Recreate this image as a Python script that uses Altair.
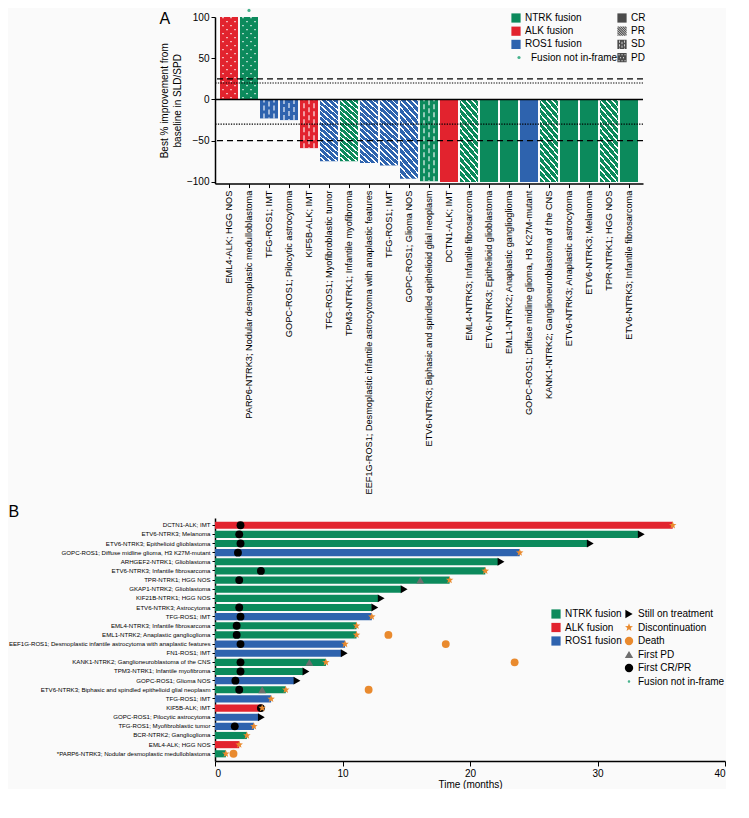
import json
import altair as alt
import pandas as pd

FONT = "Arial"
GREEN, RED, BLUE = "#0c8a5c", "#e2232e", "#2e63ae"
ORANGE, GRAY, TEAL = "#e98a2e", "#6e6e6e", "#47b28d"

fusion_names = ["NTRK fusion", "ALK fusion", "ROS1 fusion"]
fusion_colors = [GREEN, RED, BLUE]
not_in_frame = "Fusion not in-frame"

# ---------------- Panel A data ----------------
a_labels = [
    "EML4-ALK; HGG NOS",
    "PARP6-NTRK3; Nodular desmoplastic medulloblastoma",
    "TFG-ROS1; IMT",
    "GOPC-ROS1; Pilocytic astrocytoma",
    "KIF5B-ALK; IMT",
    "TFG-ROS1; Myofibroblastic tumor",
    "TPM3-NTRK1; Infantile myofibroma",
    "EEF1G-ROS1; Desmoplastic infantile astrocytoma with anaplastic features",
    "TFG-ROS1; IMT",
    "GOPC-ROS1; Glioma NOS",
    "ETV6-NTRK3; Biphasic and spindled epithelioid glial neoplasm",
    "DCTN1-ALK; IMT",
    "EML4-NTRK3; Infantile fibrosarcoma",
    "ETV6-NTRK3; Epithelioid glioblastoma",
    "EML1-NTRK2; Anaplastic ganglioglioma",
    "GOPC-ROS1; Diffuse midline glioma, H3 K27M-mutant",
    "KANK1-NTRK2; Ganglioneuroblastoma of the CNS",
    "ETV6-NTRK3; Anaplastic astrocytoma",
    "ETV6-NTRK3; Melanoma",
    "TPR-NTRK1; HGG NOS",
    "ETV6-NTRK3; Infantile fibrosarcoma",
]
a_fusion = ["ALK fusion", "NTRK fusion", "ROS1 fusion", "ROS1 fusion", "ALK fusion",
            "ROS1 fusion", "NTRK fusion", "ROS1 fusion", "ROS1 fusion", "ROS1 fusion",
            "NTRK fusion", "ALK fusion", "NTRK fusion", "NTRK fusion", "NTRK fusion",
            "ROS1 fusion", "NTRK fusion", "NTRK fusion", "NTRK fusion", "NTRK fusion",
            "NTRK fusion"]
a_change = [100, 100, -23, -25, -59, -75, -75, -77, -80, -96, -99,
            -100, -100, -100, -100, -100, -100, -100, -100, -100, -100]
a_response = ["PD", "PD", "SD", "SD", "SD", "PR", "PR", "PR", "PR", "PR", "SD",
              "CR", "PR", "CR", "CR", "CR", "PR", "CR", "CR", "PR", "CR"]
a_nif_index = [1]
a_nif_value = [108]
a_ticks = [-100, -75, -50, -25, 0, 25, 50, 75, 100]
a_domain = [-102, 100]
ref_values = [0, 25, 20, -30, -50]
ref_kind = ["solid", "dashed", "dotted", "dotted", "dashed"]
pattern_names = ["CR", "PR", "SD", "PD"]

# ---------------- Panel B data ----------------
b_labels = [
    "DCTN1-ALK; IMT",
    "ETV6-NTRK3; Melanoma",
    "ETV6-NTRK3; Epithelioid glioblastoma",
    "GOPC-ROS1; Diffuse midline glioma, H3 K27M-mutant",
    "ARHGEF2-NTRK1; Glioblastoma",
    "ETV6-NTRK3; Infantile fibrosarcoma",
    "TPR-NTRK1; HGG NOS",
    "GKAP1-NTRK2; Glioblastoma",
    "KIF21B-NTRK1; HGG NOS",
    "ETV6-NTRK3; Astrocytoma",
    "TFG-ROS1; IMT",
    "EML4-NTRK3; Infantile fibrosarcoma",
    "EML1-NTRK2; Anaplastic ganglioglioma",
    "EEF1G-ROS1; Desmoplastic infantile astrocytoma with anaplastic features",
    "FN1-ROS1; IMT",
    "KANK1-NTRK2; Ganglioneuroblastoma of the CNS",
    "TPM3-NTRK1; Infantile myofibroma",
    "GOPC-ROS1; Glioma NOS",
    "ETV6-NTRK3; Biphasic and spindled epithelioid glial neoplasm",
    "TFG-ROS1; IMT",
    "KIF5B-ALK; IMT",
    "GOPC-ROS1; Pilocytic astrocytoma",
    "TFG-ROS1; Myofibroblastic tumor",
    "BCR-NTRK2; Ganglioglioma",
    "EML4-ALK; HGG NOS",
    "*PARP6-NTRK3; Nodular desmoplastic medulloblastoma",
]
b_fusion = ["ALK fusion", "NTRK fusion", "NTRK fusion", "ROS1 fusion", "NTRK fusion",
            "NTRK fusion", "NTRK fusion", "NTRK fusion", "NTRK fusion", "NTRK fusion",
            "ROS1 fusion", "NTRK fusion", "NTRK fusion", "ROS1 fusion", "ROS1 fusion",
            "NTRK fusion", "NTRK fusion", "ROS1 fusion", "NTRK fusion", "ROS1 fusion",
            "ALK fusion", "ROS1 fusion", "ROS1 fusion", "NTRK fusion", "ALK fusion",
            "NTRK fusion"]
b_duration = [35.9, 33.2, 29.2, 23.9, 22.2, 21.2, 18.4, 14.6, 12.8, 12.3, 12.3, 11.1,
              11.1, 10.2, 9.9, 8.7, 6.9, 6.2, 5.55, 4.4, 3.7, 3.4, 3.05, 2.5, 1.9, 0.85]
b_ongoing = [False, True, True, False, True, False, False, True, True, True, False, False,
             False, False, True, False, True, True, False, False, False, True, False, False,
             False, False]
b_first_crpr = [2.0, 1.9, 2.0, 1.8, None, 3.6, 1.9, None, None, 1.9, 2.0, 1.7,
                1.7, 2.0, None, 2.0, 2.0, 1.6, 1.9, None, 3.6, None, 1.55, None,
                None, None]
b_first_pd = [None, None, None, None, None, None, 16.1, None, None, None, None, None,
              None, None, None, 7.4, None, None, 3.7, None, None, None, None, None,
              None, None]
b_death = [None, None, None, None, None, None, None, None, None, None, None, None,
           13.6, 18.1, None, 23.5, None, None, 12.05, None, None, None, None, None,
           None, 1.45]
b_ticks = [0, 10, 20, 30, 40]

# ---------------- symbols ----------------
STAR = ("M0,-1L0.247,-0.34L0.951,-0.309L0.399,0.13L0.588,0.809L0,0.42L-0.588,0.809"
        "L-0.399,0.13L-0.951,-0.309L-0.247,-0.34Z")
SMALL_DOT = "M0,-0.3A0.3,0.3,0,1,1,0,0.3A0.3,0.3,0,1,1,0,-0.3Z"
SQUARE = "M-1,-1H1V1H-1Z"


def clip(poly, a, b, c):
    out = []
    n = len(poly)
    for i in range(n):
        p, q = poly[i], poly[(i + 1) % n]
        fp = a * p[0] + b * p[1] - c
        fq = a * q[0] + b * q[1] - c
        if fp <= 0:
            out.append(p)
        if fp * fq < 0:
            t = fp / (fp - fq)
            out.append((p[0] + t * (q[0] - p[0]), p[1] + t * (q[1] - p[1])))
    return out


def hatch_path():
    sq = [(-1, -1), (1, -1), (1, 1), (-1, 1)]
    parts = []
    k = -2.0
    while k < 2.0:
        poly = clip(clip(sq, 1, -1, k + 0.34), -1, 1, -k)
        if len(poly) >= 3:
            parts.append("M" + "L".join(f"{x:.3f},{y:.3f}" for x, y in poly) + "Z")
        k += 0.5
    return "".join(parts)


def holes_path(holes):
    s = SQUARE
    for x, y, w, h in holes:
        s += f"M{x},{y}V{y + h}H{x + w}V{y}Z"
    return s


PR_PATH = hatch_path()
SD_PATH = holes_path([(-0.62, -0.85, 0.16, 0.5), (-0.08, -0.55, 0.16, 0.5), (0.46, -0.85, 0.16, 0.5),
                      (-0.62, -0.05, 0.16, 0.5), (-0.08, 0.25, 0.16, 0.5), (0.46, -0.05, 0.16, 0.5),
                      (-0.62, 0.7, 0.16, 0.25), (0.46, 0.7, 0.16, 0.25)])
PD_PATH = holes_path([(-0.75, -0.75, 0.22, 0.22), (-0.1, -0.75, 0.22, 0.22), (0.55, -0.75, 0.22, 0.22),
                      (-0.42, -0.1, 0.22, 0.22), (0.22, -0.1, 0.22, 0.22),
                      (-0.75, 0.55, 0.22, 0.22), (-0.1, 0.55, 0.22, 0.22), (0.55, 0.55, 0.22, 0.22)])

# ---------------- Panel A ----------------
df_a = pd.DataFrame({"idx": list(range(len(a_labels))), "fusion": a_fusion,
                     "change": a_change, "response": a_response, "label": a_labels})
df_nif = pd.DataFrame({"idx": a_nif_index, "change": a_nif_value,
                       "nif": [not_in_frame] * len(a_nif_index)})
df_ref = pd.DataFrame({"change": ref_values, "kind": ref_kind})

xA = alt.X("idx:O", scale=alt.Scale(paddingInner=0.1, paddingOuter=0.25),
           axis=alt.Axis(title=None, labels=False, tickSize=4, domainWidth=1.5))
yA = alt.Y("change:Q", scale=alt.Scale(domain=a_domain, nice=False, zero=False),
           axis=alt.Axis(values=a_ticks, title=["Best % improvement from", "baseline in SLD/SPD"],
                         titleFontSize=10, titleFontWeight="normal", titleLineHeight=13,
                         labelFontSize=10, labelFont=FONT, titleFont=FONT,
                         tickSize=4, domainWidth=1.5, titlePadding=4))

legA = alt.Legend(title=None, orient="none", legendX=296, legendY=-4, symbolType="square",
                  symbolSize=85, labelFontSize=10, rowPadding=3.2, labelOffset=4,
                  symbolStrokeWidth=0, labelFont=FONT)
colorA = alt.Color("fusion:N", scale=alt.Scale(domain=fusion_names, range=fusion_colors),
                   legend=legA)
bars_a = alt.Chart(df_a).mark_bar().encode(x=xA, y=yA, color=colorA)

# category labels below the bars
labels_a = alt.Chart(df_a).mark_text(angle=270, align="right", baseline="middle",
                                     fontSize=9.2, dx=-7, font=FONT, color="black").encode(
    x=xA, y=alt.datum(a_domain[0]), text="label:N")

# pattern overlays
n_stripes = 15
stops = []
for i in range(n_stripes):
    t0, tw, t1 = i / n_stripes, (i + 0.72) / n_stripes, (i + 1) / n_stripes
    stops += [alt.GradientStop(color="rgba(255,255,255,0)", offset=t0),
              alt.GradientStop(color="rgba(255,255,255,0)", offset=tw),
              alt.GradientStop(color="#ffffff", offset=tw),
              alt.GradientStop(color="#ffffff", offset=t1)]
hatch = alt.LinearGradient(gradient="linear", stops=stops, x1=0, y1=1, x2=0.303, y2=-0.18)
pr_layer = alt.Chart(df_a).transform_filter("datum.response == 'PR'").mark_bar(
    fill=hatch).encode(x=xA, y=yA)

sd_layers = [alt.Chart(df_a).transform_filter("datum.response == 'SD'").mark_rule(
    color="white", strokeWidth=1.1, strokeDash=[5, 3], xOffset=o, strokeDashOffset=d
).encode(x=xA, y=yA, y2=alt.datum(0)) for o, d in [(-5, 0), (0, 4), (5, 0)]]
pd_layers = [alt.Chart(df_a).transform_filter("datum.response == 'PD'").mark_rule(
    color="white", strokeWidth=1.3, strokeDash=[1.3, 6.7], xOffset=o, strokeDashOffset=d
).encode(x=xA, y=yA, y2=alt.datum(0)) for o, d in [(-6, 0), (-2, 4), (2, 0), (6, 4)]]

ref_layers = []
for kind, dash, w in [("solid", [1, 0], 1.5), ("dashed", [6, 4], 1.3), ("dotted", [1.3, 1.3], 1.2)]:
    ref_layers.append(alt.Chart(df_ref).transform_filter(f"datum.kind == '{kind}'").mark_rule(
        color="black", strokeWidth=w, strokeDash=dash).encode(y=yA))

legN = alt.Legend(title=None, orient="none", legendX=299, legendY=35.5, symbolType="circle",
                  symbolSize=10, labelFontSize=10, labelOffset=7, symbolStrokeWidth=0,
                  labelFont=FONT)
nif_a = alt.Chart(df_nif).mark_point(filled=True, size=10, opacity=1, strokeWidth=0).encode(
    x=xA, y=yA,
    fill=alt.Fill("nif:N", scale=alt.Scale(domain=[not_in_frame], range=[TEAL]), legend=legN))

legP = alt.Legend(title=None, orient="none", legendX=402, legendY=-4, symbolSize=85,
                  symbolFillColor="black", symbolStrokeWidth=0, labelFontSize=10,
                  rowPadding=3.2, labelOffset=4, labelFont=FONT)
pattern_legend = alt.Chart(df_a).transform_filter("false").mark_point(
    filled=True, color="black").encode(
    x=xA, y=yA,
    shape=alt.Shape("response:N", scale=alt.Scale(domain=pattern_names,
                                                  range=[SQUARE, PR_PATH, SD_PATH, PD_PATH]),
                    legend=legP))

panel_a = alt.layer(bars_a, pr_layer, *sd_layers, *pd_layers, *ref_layers, nif_a,
                    pattern_legend, labels_a).properties(
    width=428, height=166.6,
    title=alt.TitleParams("A", anchor="start", fontSize=16, fontWeight="normal", font=FONT,
                          offset=-18))

# ---------------- Panel B ----------------
df_b = pd.DataFrame({"row": list(range(len(b_labels))), "fusion": b_fusion, "time": b_duration})
ev_rows = []
for i in range(len(b_labels)):
    if b_first_crpr[i] is not None:
        ev_rows.append((i, b_first_crpr[i], "First CR/PR"))
for i in range(len(b_labels)):
    if b_first_pd[i] is not None:
        ev_rows.append((i, b_first_pd[i], "First PD"))
for i in range(len(b_labels)):
    ev_rows.append((i, b_duration[i], "Still on treatment" if b_ongoing[i] else "Discontinuation"))
for i in range(len(b_labels)):
    if b_death[i] is not None:
        ev_rows.append((i, b_death[i], "Death"))
df_ev = pd.DataFrame(ev_rows, columns=["row", "time", "event"])

ev_domain = ["Still on treatment", "Discontinuation", "Death", "First PD", "First CR/PR", not_in_frame]
ev_fill = ["black", ORANGE, ORANGE, GRAY, "black", TEAL]
ev_shape = ["triangle-right", STAR, "circle", "triangle-up", "circle", SMALL_DOT]

xB = alt.X("time:Q", scale=alt.Scale(domain=[0, 40], nice=False),
           axis=alt.Axis(values=b_ticks, title="Time (months)", titleFontSize=10,
                         titleFontWeight="normal", labelFontSize=10, tickSize=5,
                         labelFont=FONT, titleFont=FONT,
                         domainWidth=1.5, labelPadding=2, titlePadding=1))
yB = alt.Y("row:O", scale=alt.Scale(paddingInner=0.22, paddingOuter=0.4),
           axis=alt.Axis(title=None, labelFontSize=6.1, labelFont=FONT,
                         labelLimit=400, labelExpr=json.dumps(b_labels) + "[datum.value]",
                         tickSize=3, labelPadding=2, domainWidth=1.5))

legB = alt.Legend(title=None, orient="none", legendX=336, legendY=91, symbolType="square",
                  symbolSize=85, labelFontSize=10, rowPadding=3.5, labelOffset=4,
                  symbolStrokeWidth=0, labelFont=FONT)
colorB = alt.Color("fusion:N", scale=alt.Scale(domain=fusion_names, range=fusion_colors),
                   legend=legB)
bars_b = alt.Chart(df_b).mark_bar().encode(x=xB, y=yB, color=colorB)

legE = alt.Legend(title=None, orient="none", legendX=409, legendY=91, symbolSize=70,
                  labelFontSize=10, rowPadding=3.5, labelOffset=4, symbolStrokeWidth=0,
                  labelFont=FONT)
fillE = alt.Fill("event:N", scale=alt.Scale(domain=ev_domain, range=ev_fill), legend=legE)
shapeE = alt.Shape("event:N", scale=alt.Scale(domain=ev_domain, range=ev_shape), legend=legE)

markers = alt.Chart(df_ev).transform_filter("datum.event != 'Still on treatment'").mark_point(
    filled=True, size=62, opacity=1, strokeWidth=0).encode(x=xB, y=yB, fill=fillE, shape=shapeE)
triangles = alt.Chart(df_ev).transform_filter("datum.event == 'Still on treatment'").mark_point(
    filled=True, size=62, opacity=1, strokeWidth=0, xOffset=3).encode(
    x=xB, y=yB, fill=fillE, shape=shapeE)

panel_b = alt.layer(bars_b, markers, triangles).properties(
    width=510, height=243,
    title=alt.TitleParams("B", anchor="start", fontSize=16, fontWeight="normal", offset=-2,
                          font=FONT))

chart = alt.vconcat(panel_a, panel_b, spacing=334, bounds="flush").resolve_scale(
    color="independent", fill="independent", shape="independent"
).properties(
    padding={"left": 0, "top": 0, "right": 0, "bottom": 0}
).configure(
    font=FONT, background="#fafafa"
).configure_view(stroke=None).configure_axis(
    domainColor="black", tickColor="black", labelColor="black", titleColor="black", grid=False
).configure_legend(labelColor="black")

chart.save("out.html", embed_options={"renderer": "svg", "actions": False})
